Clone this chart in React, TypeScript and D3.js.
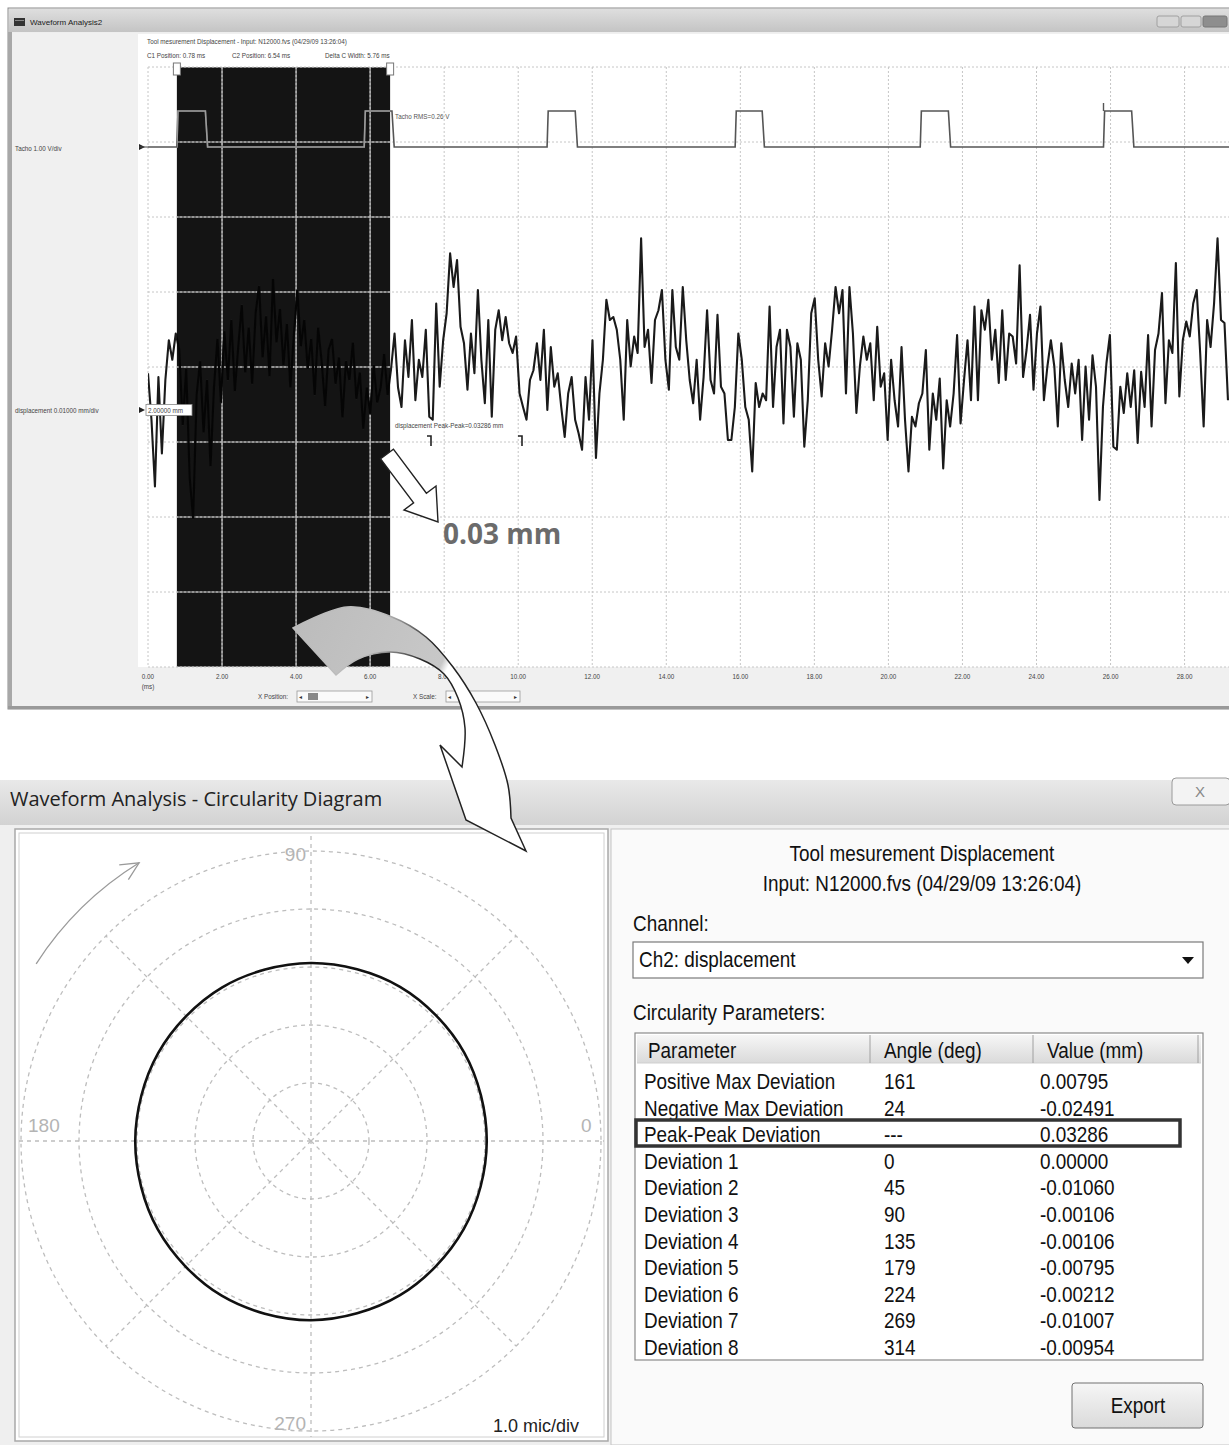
import React from 'react';
import * as d3 from 'd3';

// waveform window: time axis (ms) and cursors
const timeTicks = [0, 2, 4, 6, 8, 10, 12, 14, 16, 18, 20, 22, 24, 26, 28];
const cursorsMs = [0.78, 6.54];

// tacho pulses (ms) and pulse level (V)
const tachoRise = [0.78, 5.84, 10.78, 15.86, 20.86, 25.81];
const tachoFall = [1.55, 6.59, 11.54, 16.59, 21.62, 26.57];
const tachoHigh = 0.48;

// displacement in micrometres above the 2.00000 mm reference, one sample every SAMPLE_MS
const SAMPLE_MS = 0.0938;
const dispUm = [
  4.9, -1.3, -10.2, 4.4, -5.8, 4.0, 9.3, 6.7, 10.2,
  8.0, -2.0, 5.5, -9.0, -14.5, 2.0, 6.5, -3.0, 4.0, -7.5,
  3.0, 9.5, 1.0, 10.5, 4.0, 12.0, 2.5, 8.5, 14.0, 5.0,
  11.0, 3.5, 13.0, 16.5, 7.0, 12.5, 4.5, 17.5, 9.0, 13.5,
  6.0, 11.5, 3.0, 10.0, 16.0, 8.5, 12.0, 5.5, 9.5, 2.0,
  11.0, 6.5, 0.5, 8.0, 9.5, 3.5, 7.0, -1.0, 6.5, 4.0,
  9.0, 1.5, 5.0, -2.5, 3.0, -0.5, 6.0, 1.0, 3.0, 7.5, 2.0, 5.5,
  10.2, 3.0,
  0.4, 9.3, 4.4, 12.0, 1.3, 6.7, 4.4, 10.7, -0.9, -1.3,
  14.2, 3.1, 9.3, 12.9, 20.9, 16.4, 20.0, 11.1, 8.9, 2.7,
  10.2, 4.9, 16.0, 6.7, 0.9, 12.0, -0.9, 10.7, 13.3, 9.3,
  12.4, 8.9, 7.6, 9.8, 2.2, 0.4, -1.3, 4.0, 5.3, 8.9,
  4.0, 10.7, 0.0, 8.4, 3.1, 4.9, 0.4, -3.6, 2.2, 4.4,
  -1.3, -3.1, -5.3, 4.4, -1.3, 9.3, -6.4, 2.2, 6.7, 14.7,
  12.0, 12.4, 10.7, 6.7, -1.3, 12.0, 5.8, 9.8, 7.6, 22.9,
  8.4, 10.7, 3.6, 12.0, 13.3, 16.0, 6.7, 2.7, 16.0, 8.4,
  6.7, 16.4,
  9.3, 4.0, 0.9, 6.7, -1.3, 4.4, 13.3, 4.0, 2.2, 12.7,
  3.1, 2.2, -4.0, -4.0, 0.4, 10.2, 6.7, 0.4, -1.3, -8.2,
  3.6, 0.4, 2.2, 1.3, 13.8, 0.4, 8.4, 10.7, -1.8, 10.7,
  8.4, -0.9, 8.9, 6.7, -4.9, 1.3, 12.9, 14.9, 6.7, 1.8,
  8.9, 5.8, 10.7, 16.4, 12.9, 16.0, 2.2, 16.4, 10.2, -0.4,
  5.8, 9.8, 6.7, 8.9, 1.3, 11.1, 3.1, 4.9, -4.0, 6.7,
  1.3, -2.2, 8.4, -1.3, -8.2, -0.9, -2.2, 0.9, 2.2, 8.0,
  -5.3, 2.2, -1.3, 4.2, -7.8, 1.3, -2.2, 2.2, 10.0, -1.8,
  4.0, 9.3, 1.3, 13.8, 1.3, 13.3, 10.7, 14.7, 6.7, 10.7,
  3.6, 13.3, 4.0, 10.2, 9.8, 6.2, 19.3, 4.4, 8.0, 12.7,
  2.7, 10.2, 13.8, 1.3, 5.8, 9.3, 5.8, -2.2, 8.9, 4.0,
  0.4, 6.2, 2.2, 6.7, -4.0, 5.8, -1.3, 7.3, 3.1, -12.0,
  0.4, 6.2, 10.0, -4.9, -5.3, 3.1, -0.4, 4.9, 0.4, 5.3,
  -4.4, 5.1, 0.4, 10.0, -2.2, 8.0, 10.2, 15.6, 0.9, 9.3,
  7.6, 19.6, 1.8, 9.3, 11.8, 9.8, 14.2, 16.0, 7.6, -2.2,
  12.0, 8.4, 14.2, 22.9, 12.0, 11.6, 1.3,
];

// circularity diagram
const ringDivs = [1, 2, 3, 4, 5];
const spokeDeg = [45, 135, 225, 315];
const profileDeg = [0, 30, 60, 90, 120, 150, 180, 210, 240, 270, 300, 330];
const profileDiv = [3.03, 3.05, 3.07, 3.07, 3.06, 3.04, 3.03, 3.05, 3.08, 3.09, 3.07, 3.04];

// circularity parameters table
const paramNames = [
  'Positive Max Deviation', 'Negative Max Deviation', 'Peak-Peak Deviation',
  'Deviation 1', 'Deviation 2', 'Deviation 3', 'Deviation 4',
  'Deviation 5', 'Deviation 6', 'Deviation 7', 'Deviation 8',
];
const paramAngles = ['161', '24', '---', '0', '45', '90', '135', '179', '224', '269', '314'];
const paramValues = [
  '0.00795', '-0.02491', '0.03286', '0.00000', '-0.01060', '-0.00106',
  '-0.00106', '-0.00795', '-0.00212', '-0.01007', '-0.00954',
];

const SMALL = "'Liberation Sans', Arial, sans-serif";
const UI = "'Open Sans', 'Noto Sans', sans-serif";

// condensed-looking dialog text (no narrow font installed, so squeeze Liberation Sans)
const NText = ({ x, y, anchor = 'start', children }: { x: number; y: number; anchor?: string; children: React.ReactNode }) => (
  <text
    transform={`translate(${x},${y}) scale(0.86,1)`}
    textAnchor={anchor}
    fontSize={22}
    fontFamily={SMALL}
    fill="#111"
  >
    {children}
  </text>
);

const App = () => {
  const x = d3.scaleLinear().domain([0, 29.2]).range([148, 1229]);
  const yDiv = d3.scaleLinear().domain([0, 8]).range([67, 667]);
  const yDisp = d3.scaleLinear().domain([0, 10]).range([410, 335]);
  const yTacho = d3.scaleLinear().domain([0, 1]).range([147, 72]);
  const fmt = d3.format('.2f');

  const dispLine = d3.line<number>()
    .x((_, i) => x(i * SAMPLE_MS))
    .y(d => yDisp(d));

  const tachoPts: [number, number][] = [[0, 0]];
  tachoRise.forEach((r, i) => {
    tachoPts.push([r, 0], [r + 0.03, tachoHigh], [tachoFall[i], tachoHigh], [tachoFall[i] + 0.06, 0]);
  });
  tachoPts.push([29.2, 0]);
  const tachoLine = d3.line<[number, number]>().x(d => x(d[0])).y(d => yTacho(d[1]));

  const c0 = x(cursorsMs[0]);
  const c1 = x(cursorsMs[1]);

  // polar
  const cx = 311, cy = 1141;
  const r = d3.scaleLinear().domain([0, 5]).range([0, 290]);
  const pt = (deg: number, rad: number): [number, number] => [
    cx + rad * Math.cos((deg * Math.PI) / 180),
    cy - rad * Math.sin((deg * Math.PI) / 180),
  ];
  const profilePath = d3.line().curve(d3.curveCardinalClosed)(
    profileDeg.map((d, i) => pt(d, r(profileDiv[i])))
  );

  // direction arc arrow in the polar panel
  const arcR = 327;
  const a0 = Math.atan2(965 - cy, 38 - cx);
  const a1 = Math.atan2(861 - cy, 138 - cx);
  const arcP = d3.path();
  arcP.arc(cx, cy, arcR, a0, a1, false);
  const tipX = cx + arcR * Math.cos(a1), tipY = cy + arcR * Math.sin(a1);
  const tang = a1 + Math.PI / 2;
  const head = (off: number) => [tipX - 20 * Math.cos(tang + off), tipY - 20 * Math.sin(tang + off)];
  const h1 = head(0.45), h2 = head(-0.45);

  // block arrow near "0.03 mm"
  const s = [387, 454], tip = [438, 522];
  const len = Math.hypot(tip[0] - s[0], tip[1] - s[1]);
  const u = [(tip[0] - s[0]) / len, (tip[1] - s[1]) / len];
  const n = [-u[1], u[0]];
  const P = (along: number, side: number) => `${s[0] + u[0] * along + n[0] * side},${s[1] + u[1] * along + n[1] * side}`;
  const hl = len - 30;
  const blockArrow = `M${P(0, -8)}L${P(hl, -8)}L${P(hl, -20)}L${P(len, 0)}L${P(hl, 20)}L${P(hl, 8)}L${P(0, 8)}Z`;

  // big curved arrow joining the two windows
  const outerEdge: [number, number][] = [[293, 628], [347, 607], [392, 617], [426, 637], [453, 667], [476, 703], [495, 745], [508, 785], [511, 818]];
  const innerEdge: [number, number][] = [[462, 767], [465, 728], [458, 698], [444, 674], [420, 659], [390, 652], [358, 659], [336, 675]];
  const cr = d3.line().curve(d3.curveCatmullRom);
  const curvedArrow = `${cr(outerEdge)}L526,851L466,820L440,745${(cr(innerEdge) || '').replace(/^M/, 'L')}Z`;

  const rowY = d3.scaleLinear().domain([0, 10]).range([1081, 1347]);

  return (
    <svg width={1229} height={1445} style={{ position: 'absolute', left: 0, top: 0, background: '#fff' }}>
      <defs>
        <clipPath id="plotClip"><rect x={148} y={67} width={1081} height={600} /></clipPath>
        <clipPath id="cursorClip"><rect x={c0} y={67} width={c1 - c0} height={600} /></clipPath>
        <linearGradient id="tbTop" x1="0" y1="0" x2="0" y2="1">
          <stop offset="0" stopColor="#dedede" />
          <stop offset="1" stopColor="#c4c4c4" />
        </linearGradient>
        <linearGradient id="tbBottom" x1="0" y1="0" x2="0" y2="1">
          <stop offset="0" stopColor="#e9e9e9" />
          <stop offset="1" stopColor="#d2d2d2" />
        </linearGradient>
        <linearGradient id="btn" x1="0" y1="0" x2="0" y2="1">
          <stop offset="0" stopColor="#f6f6f6" />
          <stop offset="1" stopColor="#dadada" />
        </linearGradient>
        <linearGradient id="arrowFill" gradientUnits="userSpaceOnUse" x1={300} y1={620} x2={470} y2={700}>
          <stop offset="0" stopColor="#bcbcbc" />
          <stop offset="0.78" stopColor="#c8c8c8" />
          <stop offset="0.82" stopColor="#ffffff" />
        </linearGradient>
        <linearGradient id="arrowStroke" gradientUnits="userSpaceOnUse" x1={300} y1={620} x2={470} y2={700}>
          <stop offset="0" stopColor="#bcbcbc" />
          <stop offset="0.4" stopColor="#bcbcbc" />
          <stop offset="0.7" stopColor="#222" />
        </linearGradient>
      </defs>

      {/* ===== top window: Waveform Analysis2 ===== */}
      <rect x={8} y={8} width={1230} height={701} fill="#eeeeee" stroke="#8c8c8c" />
      <rect x={9} y={9} width={1230} height={23} fill="url(#tbTop)" />
      <rect x={14} y={18} width={11} height={8} fill="#333" />
      <rect x={15} y={20} width={9} height={1} fill="#888" />
      <text x={30} y={25} fontSize={8} fontFamily={SMALL} fill="#222">Waveform Analysis2</text>
      <rect x={1157} y={16} width={22} height={11} rx={2} fill="#d6d6d6" stroke="#a0a0a0" />
      <rect x={1181} y={16} width={20} height={11} rx={2} fill="#d6d6d6" stroke="#a0a0a0" />
      <rect x={1203} y={16} width={24} height={11} rx={2} fill="#8e8e8e" stroke="#777" />
      <rect x={8} y={32} width={4} height={677} fill="#a8a8a8" />
      <rect x={12} y={33} width={1217} height={674} fill="#f0f0f0" />
      <rect x={138} y={34} width={1091} height={633} fill="#ffffff" />

      <text x={147} y={44} fontSize={6.3} fontFamily={SMALL} fill="#444">Tool mesurement Displacement - Input: N12000.fvs (04/29/09 13:26:04)</text>
      <text x={147} y={58} fontSize={6.3} fontFamily={SMALL} fill="#444">C1 Position: 0.78 ms</text>
      <text x={232} y={58} fontSize={6.3} fontFamily={SMALL} fill="#444">C2 Position: 6.54 ms</text>
      <text x={325} y={58} fontSize={6.3} fontFamily={SMALL} fill="#444">Delta C Width: 5.76 ms</text>

      {/* cursor band */}
      <rect x={c0} y={67} width={c1 - c0} height={600} fill="#141414" />

      {/* grid */}
      {timeTicks.map(t => (
        <line key={`vg${t}`} x1={x(t)} x2={x(t)} y1={67} y2={667} stroke="#c6c6c6" strokeDasharray="2,2" />
      ))}
      {d3.range(0, 9).map(k => (
        <line key={`hg${k}`} x1={148} x2={1229} y1={yDiv(k)} y2={yDiv(k)} stroke="#c6c6c6" strokeDasharray="2,2" />
      ))}
      <g clipPath="url(#cursorClip)">
        {timeTicks.map(t => (
          <line key={`vgc${t}`} x1={x(t)} x2={x(t)} y1={67} y2={667} stroke="#bdbdbd" strokeWidth={1.2} />
        ))}
        {d3.range(0, 9).map(k => (
          <line key={`hgc${k}`} x1={148} x2={1229} y1={yDiv(k)} y2={yDiv(k)} stroke="#bdbdbd" strokeWidth={1.2} />
        ))}
      </g>

      {/* cursor handles */}
      {[c0, c1].map((c, i) => (
        <rect key={`ch${i}`} x={c - 3.5} y={63} width={7} height={12} fill="#fff" stroke="#777" />
      ))}

      {/* tacho channel */}
      <path d={tachoLine(tachoPts) || ''} fill="none" stroke="#555" strokeWidth={1.6} clipPath="url(#plotClip)" />
      <g clipPath="url(#cursorClip)">
        <path d={tachoLine(tachoPts) || ''} fill="none" stroke="#9a9a9a" strokeWidth={1.6} />
      </g>
      <line x1={x(25.81)} x2={x(25.81)} y1={yTacho(tachoHigh)} y2={yTacho(tachoHigh) - 8} stroke="#555" strokeWidth={1.4} />
      <path d={`M139,${yTacho(0) - 3}L145,${yTacho(0)}L139,${yTacho(0) + 3}Z`} fill="#222" />
      <line x1={139} x2={148} y1={yTacho(0)} y2={yTacho(0)} stroke="#444" />
      <text x={395} y={119} fontSize={6.3} fontFamily={SMALL} fill="#555">Tacho RMS=0.26 V</text>

      {/* displacement channel */}
      <g clipPath="url(#plotClip)">
        <path d={dispLine(dispUm) || ''} fill="none" stroke="#1a1a1a" strokeWidth={2.1} strokeLinejoin="round" />
      </g>
      <g clipPath="url(#cursorClip)">
        <path d={dispLine(dispUm) || ''} fill="none" stroke="#050505" strokeWidth={2.1} />
      </g>
      <path d={`M139,${yDisp(0) - 3}L145,${yDisp(0)}L139,${yDisp(0) + 3}Z`} fill="#222" />
      <rect x={146} y={yDisp(0) - 5.5} width={46} height={11} fill="#fff" stroke="#888" strokeWidth={0.8} />
      <text x={148} y={yDisp(0) + 2.5} fontSize={6.3} fontFamily={SMALL} fill="#444">2.00000 mm</text>
      <text x={395} y={428} fontSize={6.3} fontFamily={SMALL} fill="#444">displacement Peak-Peak=0.03286 mm</text>
      {[431, 522].map(px => (
        <path key={`pk${px}`} d={`M${px - 4},436H${px}V446`} fill="none" stroke="#222" strokeWidth={1.6} />
      ))}

      {/* left channel labels */}
      <text x={15} y={151} fontSize={6.3} fontFamily={SMALL} fill="#444">Tacho 1.00 V/div</text>
      <text x={15} y={413} fontSize={6.3} fontFamily={SMALL} fill="#444">displacement 0.01000 mm/div</text>

      {/* time axis labels */}
      {timeTicks.map(t => (
        <text key={`xl${t}`} x={x(t)} y={679} textAnchor="middle" fontSize={6.3} fontFamily={SMALL} fill="#444">{fmt(t)}</text>
      ))}
      <text x={x(0)} y={689} textAnchor="middle" fontSize={6.3} fontFamily={SMALL} fill="#444">(ms)</text>

      {/* scroll controls */}
      <text x={258} y={699} fontSize={6.3} fontFamily={SMALL} fill="#444">X Position:</text>
      <rect x={297} y={691} width={75} height={11} fill="#fafafa" stroke="#999" strokeWidth={0.8} />
      <rect x={308} y={693} width={10} height={7} fill="#888" />
      <text x={299} y={699} fontSize={6} fontFamily={SMALL} fill="#333">◂</text>
      <text x={366} y={699} fontSize={6} fontFamily={SMALL} fill="#333">▸</text>
      <text x={413} y={699} fontSize={6.3} fontFamily={SMALL} fill="#444">X Scale:</text>
      <rect x={446} y={691} width={74} height={11} fill="#fafafa" stroke="#999" strokeWidth={0.8} />
      <text x={448} y={699} fontSize={6} fontFamily={SMALL} fill="#333">◂</text>
      <text x={514} y={699} fontSize={6} fontFamily={SMALL} fill="#333">▸</text>
      <rect x={8} y={706} width={1230} height={3} fill="#9a9a9a" />

      {/* ===== bottom window: Circularity Diagram ===== */}
      <rect x={0} y={780} width={1229} height={665} fill="#efefef" />
      <rect x={0} y={780} width={1229} height={45} fill="url(#tbBottom)" />
      <text x={10} y={806} fontSize={20} fontFamily={UI} fill="#222">Waveform Analysis - Circularity Diagram</text>
      <rect x={1172} y={778} width={58} height={27} rx={4} fill="#f3f3f3" stroke="#9a9a9a" />
      <text x={1200} y={797} textAnchor="middle" fontSize={15} fontFamily={SMALL} fill="#888">X</text>

      {/* polar panel */}
      <rect x={15} y={829} width={593} height={612} fill="#fff" stroke="#a9a9a9" strokeWidth={1.5} />
      <rect x={19} y={833} width={585} height={604} fill="none" stroke="#d0d0d0" />
      {ringDivs.map(d => (
        <circle key={`ring${d}`} cx={cx} cy={cy} r={r(d)} fill="none" stroke="#bdbdbd" strokeWidth={1.3} strokeDasharray="4,4" />
      ))}
      {spokeDeg.map(d => {
        const [px, py] = pt(d, r(5));
        return <line key={`sp${d}`} x1={cx} y1={cy} x2={px} y2={py} stroke="#bdbdbd" strokeWidth={1.3} strokeDasharray="4,4" />;
      })}
      <line x1={19} x2={604} y1={cy} y2={cy} stroke="#bdbdbd" strokeWidth={1.3} strokeDasharray="4,4" />
      <line x1={cx} x2={cx} y1={836} y2={1437} stroke="#bdbdbd" strokeWidth={1.3} strokeDasharray="4,4" />
      <text x={cx + r(5) - 20} y={cy - 9} fontSize={19} fontFamily={SMALL} fill="#b4b4b4">0</text>
      <text x={cx - r(5) + 7} y={cy - 9} fontSize={19} fontFamily={SMALL} fill="#b4b4b4">180</text>
      <text x={cx - 5} y={cy - r(5) + 10} textAnchor="end" fontSize={19} fontFamily={SMALL} fill="#b4b4b4">90</text>
      <text x={cx - 5} y={cy + r(5) - 1} textAnchor="end" fontSize={19} fontFamily={SMALL} fill="#b4b4b4">270</text>
      <path d={profilePath || ''} fill="none" stroke="#111" strokeWidth={2.6} />
      <path d={arcP.toString()} fill="none" stroke="#9a9a9a" strokeWidth={1.3} />
      <path d={`M${h1[0]},${h1[1]}L${tipX},${tipY}L${h2[0]},${h2[1]}`} fill="none" stroke="#9a9a9a" strokeWidth={1.3} />
      <text x={493} y={1432} fontSize={18} fontFamily={SMALL} fill="#222">1.0 mic/div</text>

      {/* parameters panel */}
      <rect x={611} y={829} width={620} height={616} fill="#fafafa" stroke="#c4c4c4" />
      <NText x={922} y={861} anchor="middle">Tool mesurement Displacement</NText>
      <NText x={922} y={891} anchor="middle">Input: N12000.fvs (04/29/09 13:26:04)</NText>
      <NText x={633} y={931}>Channel:</NText>
      <rect x={633} y={942} width={570} height={36} fill="#fff" stroke="#7a7a7a" strokeWidth={1.2} />
      <NText x={639} y={967}>Ch2: displacement</NText>
      <path d="M1182,957H1194L1188,964Z" fill="#111" />
      <NText x={633} y={1020}>Circularity Parameters:</NText>

      <rect x={635} y={1033} width={568} height={327} fill="#fff" stroke="#8a8a8a" strokeWidth={1.2} />
      <rect x={637} y={1035} width={564} height={28} fill="url(#btn)" />
      <line x1={637} x2={1201} y1={1063} y2={1063} stroke="#cfcfcf" />
      {[870, 1033, 1198].map(sx => (
        <line key={`cs${sx}`} x1={sx} x2={sx} y1={1035} y2={1063} stroke="#a0a0a0" />
      ))}
      <NText x={648} y={1058}>Parameter</NText>
      <NText x={884} y={1058}>Angle (deg)</NText>
      <NText x={1047} y={1058}>Value (mm)</NText>
      {paramNames.map((p, i) => (
        <g key={`row${i}`}>
          <NText x={644} y={rowY(i) + 8}>{p}</NText>
          <NText x={884} y={rowY(i) + 8}>{paramAngles[i]}</NText>
          <NText x={1040} y={rowY(i) + 8}>{paramValues[i]}</NText>
        </g>
      ))}
      <rect x={636} y={1120} width={544} height={26} fill="none" stroke="#333" strokeWidth={3.5} />

      <rect x={1072} y={1383} width={131} height={45} rx={3} fill="url(#btn)" stroke="#707070" />
      <NText x={1138} y={1413} anchor="middle">Export</NText>

      {/* ===== annotations ===== */}
      <path d={blockArrow} fill="#fff" stroke="#222" strokeWidth={1.4} />
      <text x={443} y={544} fontSize={28} fontWeight="bold" fontFamily={UI} fill="#6b6b6b">0.03 mm</text>
      <path d={curvedArrow} fill="url(#arrowFill)" stroke="url(#arrowStroke)" strokeWidth={1.5} strokeLinejoin="miter" />
    </svg>
  );
};

export default App;
